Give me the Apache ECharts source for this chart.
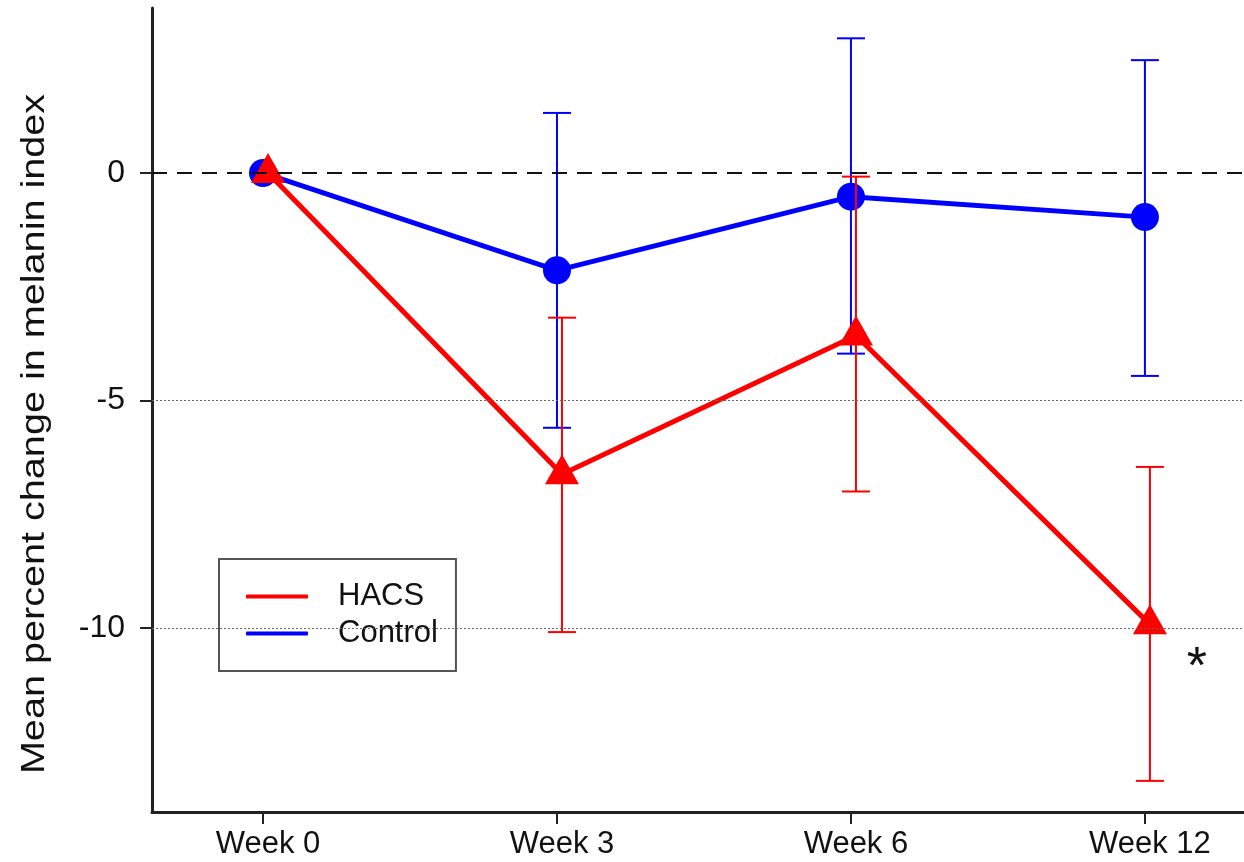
<!DOCTYPE html>
<html>
<head>
<meta charset="utf-8">
<script src="https://cdn.jsdelivr.net/npm/echarts@6/dist/echarts.min.js"></script>
<style>
html,body{margin:0;padding:0;background:#fff;}
#chart{width:1244px;height:862px;}
</style>
</head>
<body>
<div id="chart"></div>
<script>
// ---- data ----
const weeks = ['Week 0', 'Week 3', 'Week 6', 'Week 12'];
const hacsMean  = [0, -6.62, -3.57, -9.92];
const hacsUpper = [null, -3.18, -0.08, -6.46];
const hacsLower = [null, -10.09, -7.0, -13.36];
const ctrlMean  = [0, -2.14, -0.52, -0.97];
const ctrlUpper = [null, 1.32, 2.96, 2.48];
const ctrlLower = [null, -5.6, -3.97, -4.46];
const yTicks = [0, -5, -10];
const xTicks = [0, 1, 2, 3];
const hacsNote = ['', '', '', '*'];
const yTitle = 'Mean percent change in melanin index';

const RED = '#FF0000', BLUE = '#0000FF';
const FONT = '"Liberation Sans", Arial, sans-serif';

function barData(mean, up, lo) {
  return mean.map((m, i) => [i, m, up[i] == null ? m : up[i], lo[i] == null ? m : lo[i]]);
}

function errorBarChildren(api, i, color, dx, up) {
  if (up[i] == null) return [];
  const x = api.value(0);
  const t = api.coord([x, api.value(2)]);
  const b = api.coord([x, api.value(3)]);
  const cx = t[0] + dx, hw = 14;
  const st = { stroke: color, lineWidth: 2, fill: null };
  return [
    { type: 'line', shape: { x1: cx, y1: t[1], x2: cx, y2: b[1] }, style: st },
    { type: 'line', shape: { x1: cx - hw, y1: t[1], x2: cx + hw, y2: t[1] }, style: st },
    { type: 'line', shape: { x1: cx - hw, y1: b[1], x2: cx + hw, y2: b[1] }, style: st }
  ];
}

const chart = echarts.init(document.getElementById('chart'), null, { renderer: 'canvas' });

const option = {
  animation: false,
  backgroundColor: '#fff',
  grid: { left: 152, right: 0, top: 8, bottom: 50, containLabel: false },
  xAxis: {
    type: 'value',
    min: -0.3776, max: 3.337,
    splitLine: { show: false },
    axisLine: { show: true, onZero: false, lineStyle: { color: '#222', width: 3 } },
    axisTick: { show: true, customValues: xTicks, length: 12, lineStyle: { color: '#222', width: 2 } },
    axisLabel: {
      customValues: xTicks, margin: 17,
      padding: [0, 0, 0, 10],
      formatter: v => weeks[Math.round(v)] || '',
      color: '#111', fontSize: 31, fontFamily: FONT
    }
  },
  yAxis: {
    type: 'value',
    min: -14.044, max: 3.626,
    splitLine: { show: false },
    axisLine: { show: true, onZero: false, lineStyle: { color: '#222', width: 3 } },
    axisTick: { show: true, customValues: yTicks, length: 12, lineStyle: { color: '#222', width: 2 } },
    axisLabel: {
      customValues: yTicks, margin: 27,
      formatter: v => String(v),
      color: '#111', fontSize: 32, fontFamily: FONT
    }
  },
  legend: {
    orient: 'vertical',
    left: 219, top: 559,
    padding: [22, 18, 22, 27],
    itemGap: 6,
    itemWidth: 62, itemHeight: 4,
    icon: 'roundRect',
    borderColor: '#555', borderWidth: 2,
    selectedMode: false,
    textStyle: { color: '#111', fontSize: 31, fontFamily: FONT, padding: [0, 0, 0, 25] },
    data: [
      { name: 'HACS', itemStyle: { color: RED } },
      { name: 'Control', itemStyle: { color: BLUE } }
    ]
  },
  graphic: [{
    type: 'text',
    x: 35, y: 434,
    rotation: Math.PI / 2,
    scaleX: 1.2,
    style: {
      text: yTitle, fill: '#111',
      font: '33px "Liberation Sans", Arial, sans-serif',
      textAlign: 'center', textVerticalAlign: 'middle'
    },
    silent: true
  }],
  series: [
    {
      name: 'Control bars',
      type: 'custom',
      z: 2,
      silent: true,
      data: barData(ctrlMean, ctrlUpper, ctrlLower),
      encode: { x: 0, y: [1, 2, 3] },
      renderItem: (params, api) => ({
        type: 'group',
        children: errorBarChildren(api, params.dataIndex, BLUE, 0, ctrlUpper)
      })
    },
    {
      name: 'Control',
      type: 'line',
      z: 3,
      silent: true,
      data: ctrlMean.map((v, i) => [i, v]),
      symbol: 'circle',
      symbolSize: 28,
      lineStyle: { color: BLUE, width: 5 },
      itemStyle: { color: BLUE },
      markLine: {
        silent: true,
        symbol: ['none', 'none'],
        label: { show: false },
        animation: false,
        data: yTicks.map(v => ({
          yAxis: v,
          lineStyle: v === 0
            ? { color: '#111', width: 2, type: [15, 10] }
            : { color: '#666', width: 1, type: [2, 2] }
        }))
      }
    },
    {
      name: 'HACS',
      type: 'custom',
      z: 4,
      silent: true,
      itemStyle: { color: RED },
      data: barData(hacsMean, hacsUpper, hacsLower),
      encode: { x: 0, y: [1, 2, 3] },
      renderItem: (params, api) => {
        const i = params.dataIndex;
        const dx = 5;
        const p = api.coord([api.value(0), api.value(1)]);
        const cx = p[0] + dx, cy = p[1];
        const children = errorBarChildren(api, i, RED, dx, hacsUpper);
        if (i < hacsMean.length - 1) {
          const q = api.coord([i + 1, hacsMean[i + 1]]);
          children.push({
            type: 'line',
            shape: { x1: cx, y1: cy, x2: q[0] + dx, y2: q[1] },
            style: { stroke: RED, lineWidth: 5, lineCap: 'round' }
          });
        }
        const w = 34, h = 30;
        children.push({
          type: 'polygon',
          shape: { points: [[cx, cy - h * 2 / 3], [cx - w / 2, cy + h / 3], [cx + w / 2, cy + h / 3]] },
          style: { fill: RED }
        });
        if (hacsNote[i]) {
          children.push({
            type: 'text',
            x: cx + 47, y: cy + 44,
            style: {
              text: hacsNote[i], fill: '#111',
              font: '52px "Liberation Sans", Arial, sans-serif',
              textAlign: 'center', textVerticalAlign: 'middle'
            }
          });
        }
        return { type: 'group', children };
      }
    }
  ]
};

chart.setOption(option);
</script>
</body>
</html>
